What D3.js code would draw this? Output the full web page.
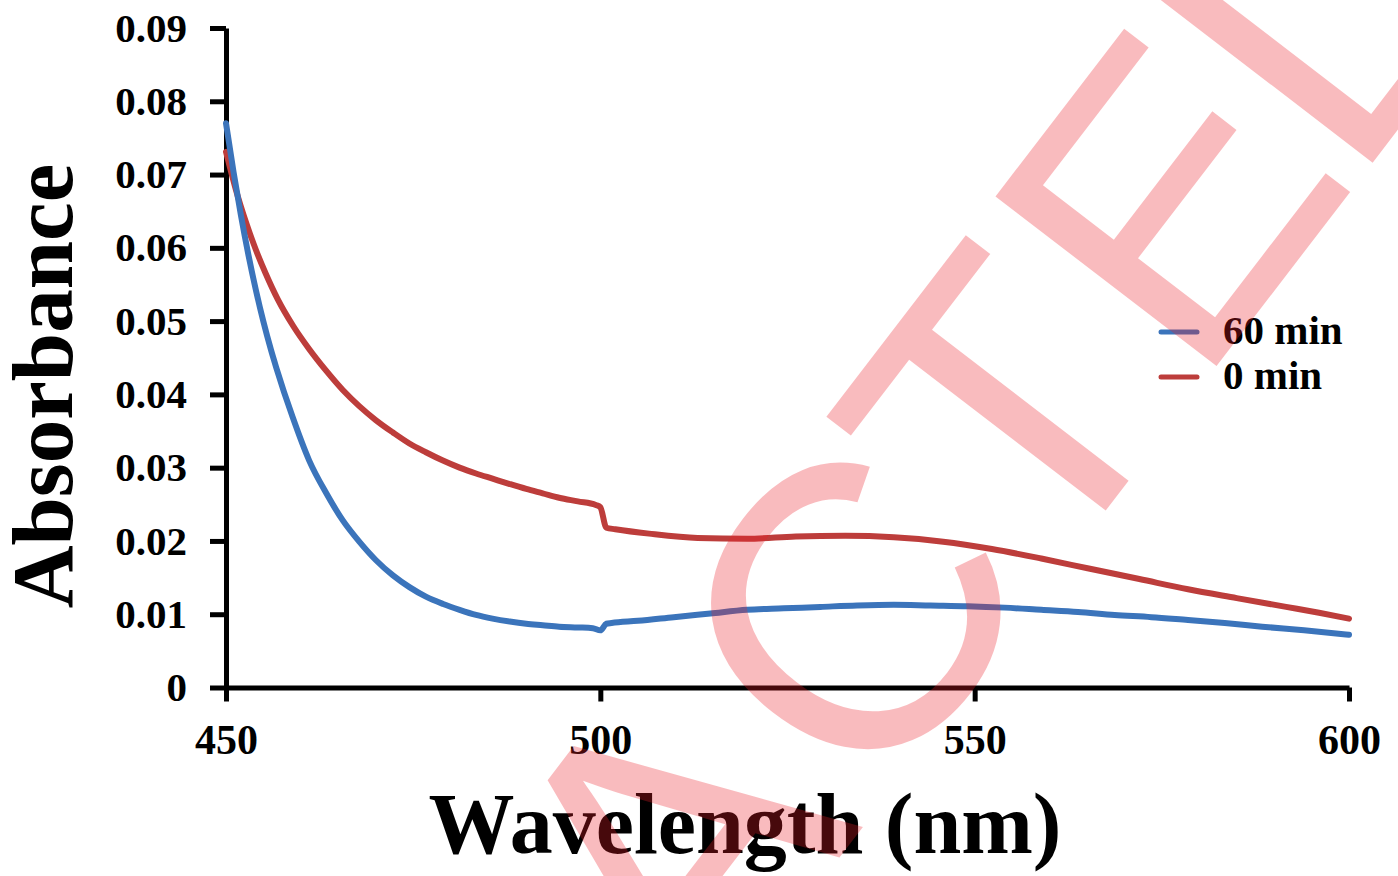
<!DOCTYPE html>
<html>
<head>
<meta charset="utf-8">
<script src="https://cdn.jsdelivr.net/npm/d3@7"></script>
<style>
  html, body { margin: 0; padding: 0; background: #fff; }
  svg { display: block; }
</style>
</head>
<body>
<svg id="chart" width="1398" height="876"></svg>
<script>
// ---- data ----
const wavelength60 = [450, 451, 452, 453, 454, 455, 456, 456.7, 458.9, 461.1, 463.4, 465.6, 467.8, 470, 472.3, 474.5, 476.7, 479, 481.2, 483.4, 485.6, 487.9, 490.1, 492.3, 494.5, 497, 499, 500, 500.8, 501.5, 505, 509.8, 514.7, 519.6, 524.5, 529.4, 534.3, 539.2, 544.1, 549.1, 554, 558.9, 563.8, 568.7, 573.6, 578.5, 583.4, 588.4, 594, 600];
const absorb60 = [0.0770, 0.0704, 0.0644, 0.0590, 0.0542, 0.0499, 0.0461, 0.0437, 0.0369, 0.0310, 0.0265, 0.0228, 0.0199, 0.0174, 0.0153, 0.0137, 0.0124, 0.0114, 0.0106, 0.0099, 0.0094, 0.0090, 0.0087, 0.0085, 0.0083, 0.0082, 0.0081, 0.0078, 0.0087, 0.0088, 0.0091, 0.0096, 0.0101, 0.0106, 0.0108, 0.0110, 0.0112, 0.0113, 0.0112, 0.0111, 0.0109, 0.0106, 0.0103, 0.0099, 0.0096, 0.0092, 0.0088, 0.0083, 0.0078, 0.0072];

const wavelength0 = [450, 451.3, 452.7, 454, 455.3, 456.9, 459, 461.1, 463.4, 465.6, 467.8, 470, 472.3, 474.5, 476.7, 478.9, 481.2, 483.4, 485.6, 487.8, 490.1, 492.3, 494.5, 497, 499.4, 500.0, 500.8, 502, 506.5, 513, 519.6, 526.1, 532.7, 539.2, 545.8, 552.3, 558.9, 565.4, 572, 578.5, 585, 591.6, 596, 600];
const absorb0 = [0.0731, 0.0680, 0.0634, 0.0597, 0.0565, 0.0530, 0.0493, 0.0462, 0.0432, 0.0406, 0.0384, 0.0365, 0.0348, 0.0333, 0.0321, 0.0310, 0.0300, 0.0292, 0.0285, 0.0278, 0.0271, 0.0265, 0.0259, 0.0254, 0.0249, 0.0246, 0.0218, 0.0216, 0.0210, 0.0204, 0.0203, 0.0206, 0.0207, 0.0205, 0.0199, 0.0189, 0.0176, 0.0162, 0.0148, 0.0134, 0.0122, 0.0110, 0.0102, 0.0094];

const xTicks = [450, 500, 550, 600];
const yTicks = [0, 0.01, 0.02, 0.03, 0.04, 0.05, 0.06, 0.07, 0.08, 0.09];
const yTickLabels = ["0", "0.01", "0.02", "0.03", "0.04", "0.05", "0.06", "0.07", "0.08", "0.09"];
const seriesNames = ["60 min", "0 min"];
const seriesColors = ["#3b74bb", "#bd3d3b"];
const xTitle = "Wavelength (nm)";
const yTitle = "Absorbance";
const watermarkLetters = ["A", "C", "T", "E", "L"];
const watermarkPos = [-265, 31, 287, 552, 786];

// ---- layout ----
const svg = d3.select("#chart");
const mLeft = 226, mRight = 1349, mTop = 28, mBottom = 687.5;
const serif = "'Liberation Serif', 'Times New Roman', serif";

const x = d3.scaleLinear().domain([450, 600]).range([mLeft, mRight]);
const y = d3.scaleLinear().domain([0, 0.09]).range([mBottom, mTop]);

// axes
const yAxis = d3.axisLeft(y).tickValues(yTicks)
  .tickFormat((d, i) => yTickLabels[i]).tickSize(16).tickSizeOuter(0).tickPadding(23);
const xAxis = d3.axisBottom(x).tickValues(xTicks)
  .tickFormat(d3.format("d")).tickSize(14).tickSizeOuter(0).tickPadding(23);

const gy = svg.append("g").attr("transform", `translate(${mLeft},0)`).call(yAxis);
const gx = svg.append("g").attr("transform", `translate(0,${mBottom})`).call(xAxis);

[gx, gy].forEach(g => {
  g.selectAll("path.domain").attr("stroke", "#000").attr("stroke-width", 5);
  g.selectAll(".tick line").attr("stroke", "#000").attr("stroke-width", 5);
  g.selectAll(".tick text")
    .attr("fill", "#000")
    .style("font-family", serif)
    .style("font-weight", "bold")
    .style("font-size", "41px");
});
gx.selectAll(".tick text").style("font-size", "42px");

// lines
const line = d3.line().x(d => x(d[0])).y(d => y(d[1])).curve(d3.curveMonotoneX);
const data60 = wavelength60.map((w, i) => [w, absorb60[i]]);
const data0 = wavelength0.map((w, i) => [w, absorb0[i]]);

svg.append("path").datum(data0)
  .attr("d", line).attr("fill", "none")
  .attr("stroke", seriesColors[1]).attr("stroke-width", 6)
  .attr("stroke-linejoin", "round").attr("stroke-linecap", "round");
svg.append("path").datum(data60)
  .attr("d", line).attr("fill", "none")
  .attr("stroke", seriesColors[0]).attr("stroke-width", 6)
  .attr("stroke-linejoin", "round").attr("stroke-linecap", "round");

// legend
const legend = svg.append("g");
seriesNames.forEach((name, i) => {
  const ly = 332 + i * 45;
  legend.append("line")
    .attr("x1", 1161).attr("x2", 1197).attr("y1", ly).attr("y2", ly)
    .attr("stroke", seriesColors[i]).attr("stroke-width", 5).attr("stroke-linecap", "round");
  legend.append("text")
    .attr("x", 1223).attr("y", ly + 12)
    .style("font-family", serif).style("font-weight", "bold").style("font-size", "41px")
    .attr("fill", "#000").text(name);
});

// axis titles
svg.append("text")
  .attr("transform", "translate(72,386) rotate(-90)")
  .attr("text-anchor", "middle")
  .style("font-family", serif).style("font-weight", "bold").style("font-size", "87px")
  .attr("fill", "#000").text(yTitle);

svg.append("text")
  .attr("x", 745).attr("y", 853)
  .attr("text-anchor", "middle")
  .style("font-family", serif).style("font-weight", "bold").style("font-size", "86px")
  .attr("fill", "#000").text(xTitle);

// watermark overlay
const wm = svg.append("g").attr("transform", "rotate(-52.5)").style("pointer-events", "none");
watermarkLetters.forEach((ch, i) => {
  wm.append("text")
    .attr("x", watermarkPos[i]).attr("y", 1188)
    .attr("text-anchor", "middle")
    .style("font-family", "'Liberation Sans', Arial, sans-serif")
    .style("font-size", "405px")
    .attr("fill", "rgb(235,30,40)").attr("fill-opacity", 0.3)
    .text(ch);
});
</script>
</body>
</html>
